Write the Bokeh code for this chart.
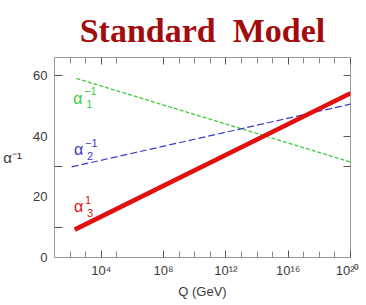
import numpy as np
from bokeh.plotting import figure
from bokeh.models import FixedTicker, LinearAxis, LogAxis, Range1d, ColumnDataSource
from bokeh.core.properties import value
from bokeh.embed import file_html
from bokeh.resources import INLINE

# ---- data ----
log_q_start = [2.4, 2.1, 2.3]          # log10(Q/GeV) where each curve starts
log_q_end = [20.0, 20.0, 20.0]
alpha1_inv = [59.1, 31.5]
alpha2_inv = [29.9, 50.6]
alpha3_inv = [9.2, 54.2]

x_major = [4, 8, 12, 16, 20]
x_minor = [2, 3, 5, 9, 10, 11, 13, 14, 15, 17, 18, 19]
x_labels = ["10⁴", "10⁸", "10¹²", "10¹⁶", "10²⁰"]
y_major = [0, 20, 40, 60]
y_left_ticks = [10, 30, 60]
y_right_ticks = [30, 40, 60]

label_log_x = [2.2, 2.25, 2.25]
label_y = [52.5, 35.5, 16.7]
label_sup = ["−1", "−1", "1"]
label_sub = ["1", "2", "3"]

GREEN = "#3ccc3c"
BLUE = "#3a3acc"
RED = "#e01010"
colors = [GREEN, BLUE, RED]

FONT = "Liberation Sans"
TXT = "#3a3a3a"

p = figure(frame_width=296, frame_height=200, x_axis_type="log",
           x_range=Range1d(1e1, 1e20), y_range=Range1d(0, 66),
           output_backend="svg", toolbar_location=None,
           min_border_left=47, min_border_right=9,
           min_border_top=49, min_border_bottom=39)

p.title.text = "Standard\u00a0\u00a0Model"
p.title.text_font = "Liberation Serif"
p.title.text_font_style = "bold"
p.title.text_font_size = "34px"
p.title.text_color = "#a30c0c"
p.title.align = "center"
p.title.standoff = 18

p.xgrid.visible = False
p.ygrid.visible = False
p.outline_line_color = "#999999"
p.background_fill_color = "white"
p.border_fill_color = "white"

# curves
xs = [[10 ** log_q_start[0], 10 ** log_q_end[0]],
      [10 ** log_q_start[1], 10 ** log_q_end[1]],
      [10 ** log_q_start[2], 10 ** log_q_end[2]]]
p.line(xs[0], alpha1_inv, line_color=GREEN, line_width=1.2, line_dash="4 2")
p.line(xs[1], alpha2_inv, line_color=BLUE, line_width=1.2, line_dash="7 3")
p.line(xs[2], alpha3_inv, line_color=RED, line_width=4.5)

# curve labels
src = ColumnDataSource(dict(x=[10 ** v for v in label_log_x], y=label_y,
                            a=["α", "α", "α"], sup=label_sup, sub=label_sub,
                            c=colors))
p.text(x="x", y="y", text="a", text_color="c", source=src,
       text_font=value(FONT), text_font_size="16px",
       text_baseline="middle", text_align="left")
p.text(x="x", y="y", text="sup", text_color="c", source=src,
       text_font=value(FONT), text_font_size="11px",
       text_baseline="middle", text_align="left", x_offset=11, y_offset=-7)
p.text(x="x", y="y", text="sub", text_color="c", source=src,
       text_font=value(FONT), text_font_size="11px",
       text_baseline="middle", text_align="left", x_offset=13, y_offset=6)

# bottom axis
xa = p.xaxis[0]
xa.ticker = FixedTicker(ticks=[10.0 ** k for k in x_major],
                        minor_ticks=[10.0 ** k for k in x_minor])
xa.major_label_overrides = {10.0 ** k: lab for k, lab in zip(x_major, x_labels)}
xa.axis_label = "Q (GeV)"
xa.axis_line_color = None
xa.major_tick_in = 7
xa.major_tick_out = 0
xa.minor_tick_in = 6
xa.minor_tick_out = 0
xa.major_tick_line_color = "#555555"
xa.minor_tick_line_color = "#888888"
xa.major_label_text_font = FONT
xa.major_label_text_font_size = "13px"
xa.major_label_text_color = TXT
xa.major_label_standoff = 5
xa.axis_label_text_font = FONT
xa.axis_label_text_font_size = "13px"
xa.axis_label_text_font_style = "normal"
xa.axis_label_text_color = TXT
xa.axis_label_standoff = 3

# left axis
ya = p.yaxis[0]
ya.ticker = FixedTicker(ticks=y_major, minor_ticks=y_left_ticks)
ya.axis_line_color = None
ya.major_tick_in = 0
ya.major_tick_out = 0
ya.minor_tick_in = 8
ya.minor_tick_out = 0
ya.minor_tick_line_color = "#555555"
ya.major_label_text_font = FONT
ya.major_label_text_font_size = "13px"
ya.major_label_text_color = TXT
ya.major_label_standoff = 7
ya.axis_label = "α⁻¹"
ya.axis_label_orientation = "horizontal"
ya.axis_label_text_font = FONT
ya.axis_label_text_font_size = "15px"
ya.axis_label_text_font_style = "normal"
ya.axis_label_text_color = TXT
ya.axis_label_standoff = 8

# top axis: decade ticks only
ta = LogAxis(ticker=FixedTicker(ticks=[10.0 ** k for k in x_major],
                                minor_ticks=[10.0 ** k for k in x_minor]))
ta.axis_line_color = None
ta.major_tick_in = 7
ta.major_tick_out = 0
ta.minor_tick_in = 6
ta.minor_tick_out = 0
ta.major_tick_line_color = "#555555"
ta.minor_tick_line_color = "#888888"
ta.major_label_overrides = {10.0 ** k: "" for k in x_major}
ta.major_label_text_font_size = "1px"
ta.major_label_standoff = 0
p.add_layout(ta, "above")

# right axis
ra = LinearAxis(ticker=FixedTicker(ticks=y_right_ticks))
ra.axis_line_color = None
ra.major_tick_in = 7
ra.major_tick_out = 0
ra.major_tick_line_color = "#555555"
ra.major_label_overrides = {v: "" for v in y_right_ticks}
ra.major_label_text_font_size = "1px"
ra.major_label_standoff = 0
p.add_layout(ra, "right")

open("out.html", "w").write(file_html(p, INLINE))
